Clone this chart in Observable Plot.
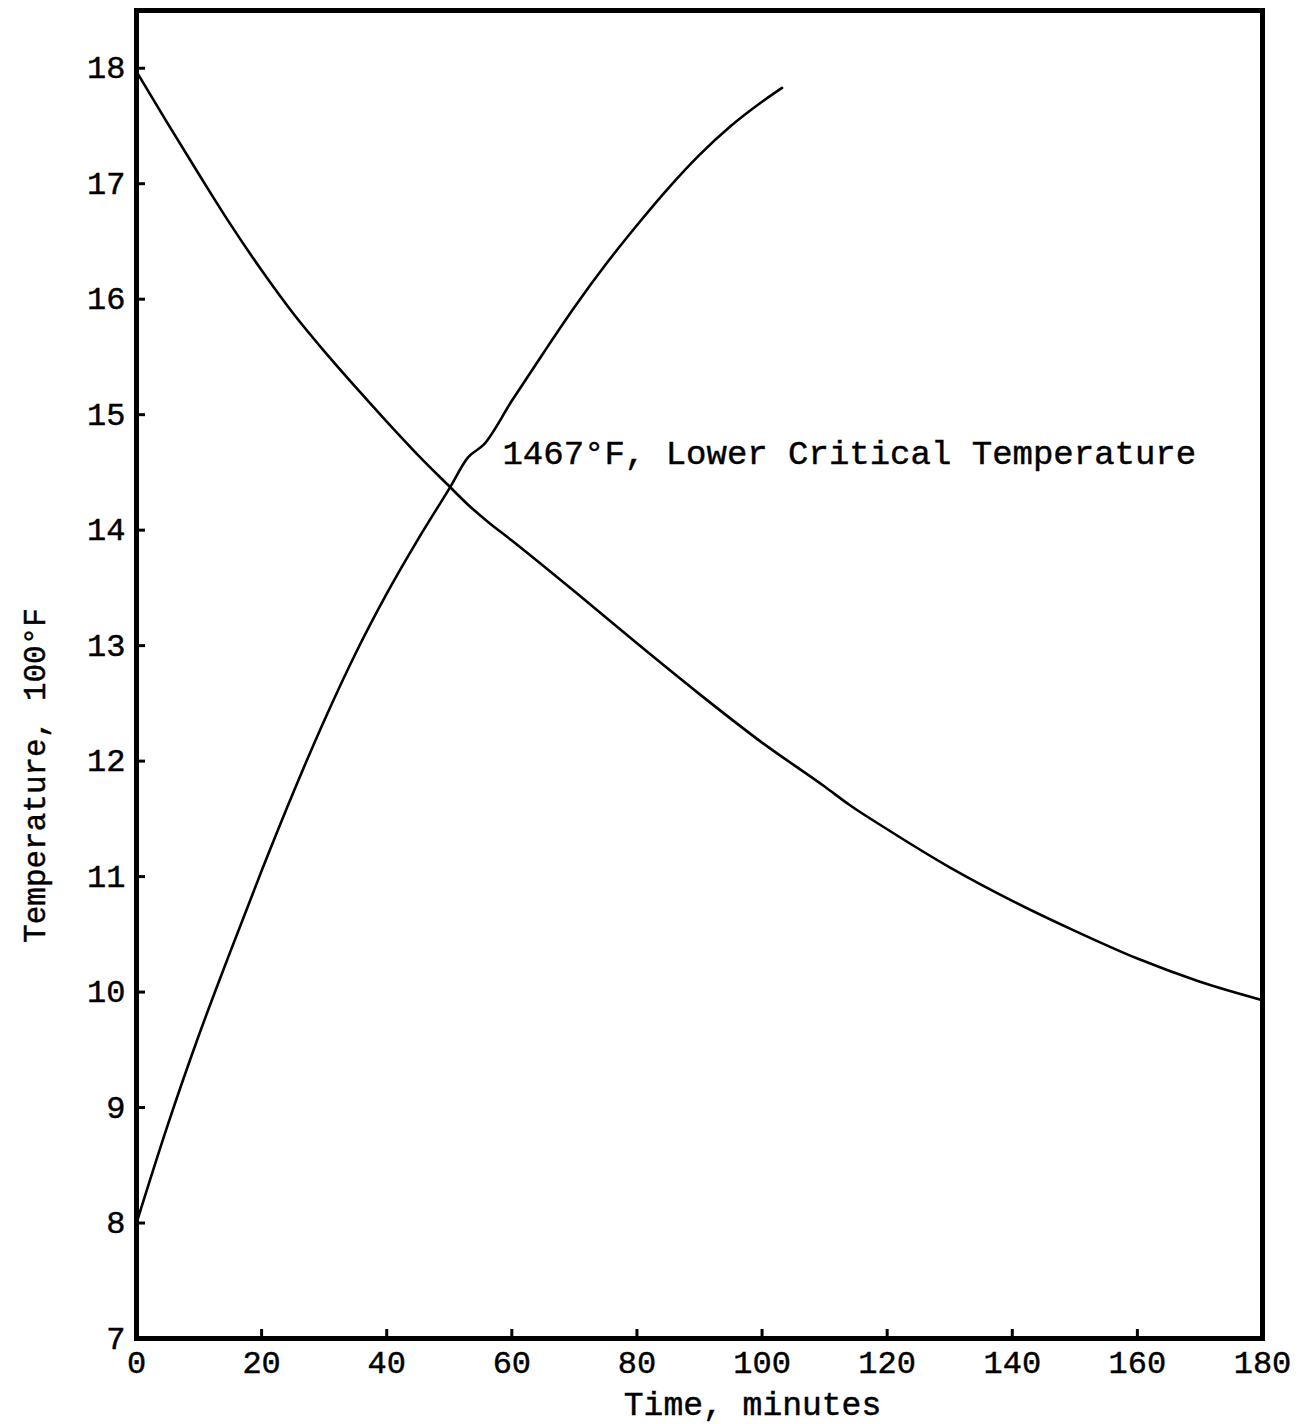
<!DOCTYPE html>
<html>
<head>
<meta charset="utf-8">
<script src="https://cdn.jsdelivr.net/npm/d3@7"></script>
<script src="https://cdn.jsdelivr.net/npm/@observablehq/plot@0.6"></script>
<style>
  html, body { margin: 0; padding: 0; background: #fff; }
  #chart svg { display: block; }
  #chart svg text { stroke: #000; stroke-width: 0.45px; }
</style>
</head>
<body>
<div id="chart"></div>
<script>
// Cooling curve (time in minutes, temperature in 100°F)
const coolingTime = [0, 5, 10, 15, 20, 25, 30, 35, 40, 45, 50, 53, 56, 60, 70, 80, 90, 100, 110, 114, 120, 130, 140, 150, 160, 170, 180];
const coolingTemp = [17.97, 17.52, 17.08, 16.65, 16.25, 15.88, 15.55, 15.24, 14.94, 14.65, 14.38, 14.22, 14.08, 13.91, 13.47, 13.02, 12.58, 12.16, 11.78, 11.62, 11.41, 11.08, 10.79, 10.53, 10.29, 10.09, 9.93];

// Heating curve
const heatingTime = [0, 5, 10, 15, 20, 25, 30, 35, 40, 45, 50, 53, 55.5, 60, 65, 70, 75, 80, 85, 90, 95, 100, 103.2];
const heatingTemp = [8.00, 8.85, 9.63, 10.35, 11.05, 11.72, 12.35, 12.93, 13.45, 13.92, 14.36, 14.63, 14.74, 15.12, 15.53, 15.93, 16.30, 16.64, 16.96, 17.25, 17.50, 17.71, 17.83];

// Tick values
const xTicks = [0, 20, 40, 60, 80, 100, 120, 140, 160, 180];
const yTicks = [7, 8, 9, 10, 11, 12, 13, 14, 15, 16, 17, 18];

// Annotation
const noteTime = [58.5];
const noteTemp = [14.67];
const noteText = ["1467°F, Lower Critical Temperature"];

const cooling = coolingTime.map((t, i) => ({t, temp: coolingTemp[i]}));
const heating = heatingTime.map((t, i) => ({t, temp: heatingTemp[i]}));
const notes = noteTime.map((t, i) => ({t, temp: noteTemp[i], text: noteText[i]}));

const FONT = "'Liberation Mono', 'Courier New', monospace";

const chart = Plot.plot({
  width: 1305,
  height: 1424,
  marginLeft: 136,
  marginRight: 43,
  marginTop: 10,
  marginBottom: 86,
  style: {fontFamily: FONT, fontSize: "32px", color: "#000", background: "#fff"},
  x: {domain: [0, 180]},
  y: {domain: [7, 18.5]},
  marks: [
    Plot.axisX({ticks: xTicks, tickSize: -9, tickPadding: 21, strokeWidth: 3, label: null, tickFormat: d => String(d), fontSize: 32}),
    Plot.axisY({ticks: yTicks, tickSize: -9, tickPadding: 20, strokeWidth: 3, label: null, tickFormat: d => String(d), fontSize: 32}),
    Plot.line(cooling, {x: "t", y: "temp", stroke: "#000", strokeWidth: 2.6, curve: "monotone-x"}),
    Plot.line(heating, {x: "t", y: "temp", stroke: "#000", strokeWidth: 2.6, curve: "monotone-x"}),
    Plot.text(notes, {x: "t", y: "temp", text: "text", textAnchor: "start", lineAnchor: "middle", fontSize: 34, fill: "#000"}),
    Plot.text(["Temperature, 100°F"], {frameAnchor: "left", textAnchor: "middle", lineAnchor: "middle", rotate: -90, dx: -101, dy: 101, fontSize: 31, fill: "#000"}),
    Plot.text(["Time, minutes"], {frameAnchor: "bottom", textAnchor: "middle", lineAnchor: "middle", dx: 53, dy: 66, fontSize: 33, fill: "#000"}),
    Plot.frame({stroke: "#000", strokeWidth: 5})
  ]
});
document.getElementById("chart").appendChild(chart);
</script>
</body>
</html>
